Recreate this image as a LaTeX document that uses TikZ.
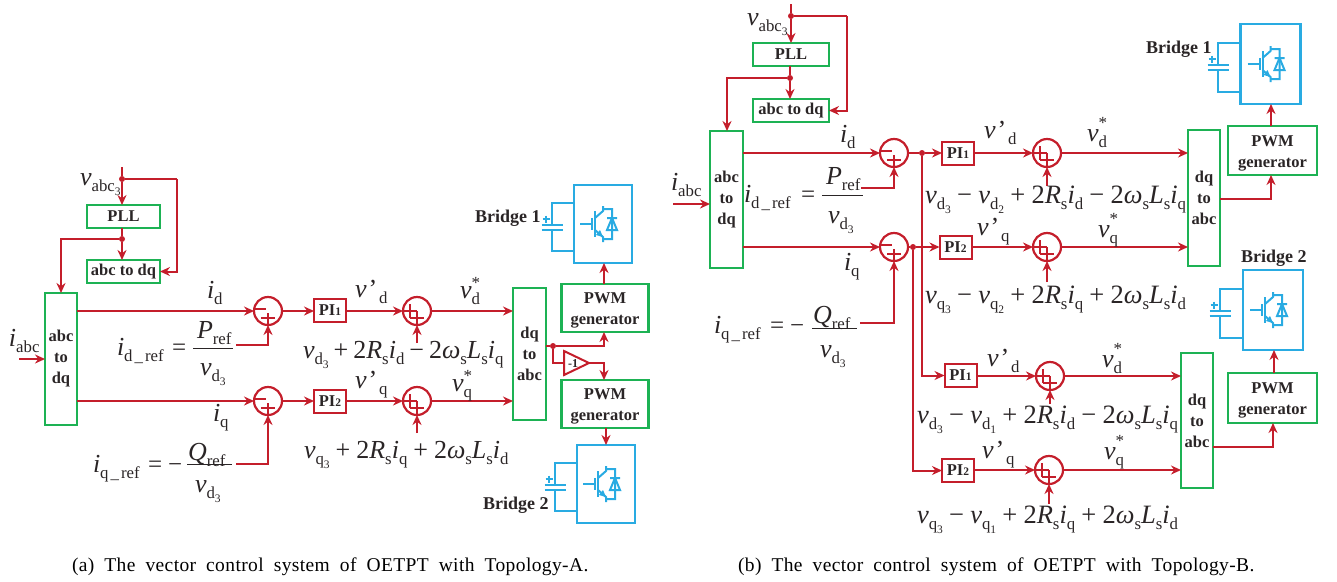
\documentclass[tikz,border=0pt]{standalone}
\usepackage{fontspec}
\setmainfont{Liberation Serif}
\newfontfamily\capf[LetterSpace=2,WordSpace=1.9]{Liberation Serif}
\usetikzlibrary{arrows.meta}
\definecolor{cred}{HTML}{C41E2B}
\definecolor{cgreen}{HTML}{1DB254}
\definecolor{cblue}{HTML}{29ABE2}
\definecolor{ctext}{HTML}{2A2526}
\newdimen\eqk \eqk=5pt
\newcommand\Sb[1]{\raisebox{-6pt}{\fontsize{16.8}{16.8}\selectfont\upshape #1}}
\newcommand\Ssb[1]{\raisebox{-4pt}{\fontsize{11.5}{12}\selectfont #1}}
\newcommand\Pl{\kern\eqk{\upshape +}\kern\eqk}
\newcommand\Mi{\kern\eqk{\upshape −}\kern\eqk}
\newcommand\Tw{{\upshape 2}}
\newcommand\Vst[2][10]{v\rlap{\Sb{#2}}\raisebox{#1pt}{\upshape\fontsize{17}{17}\selectfont *}}
\newcommand\Vpr[1]{v\kern2pt{\upshape '}\kern2pt\Sb{#1}}
\newcommand\Vdt{v\Sb{d\Ssb{3}}}
\newcommand\Vab{v\Sb{abc\Ssb{3}}}
\newcommand\Und{\kern2pt\_\kern2pt}
\newcommand\Pii[1]{PI\raisebox{0pt}{\fontsize{11.5}{12}\selectfont #1}}
\newcommand\Pwm{\rule{0pt}{16pt}PWM\\generator}
\tikzset{
  lbl/.style={inner sep=0pt,outer sep=0pt,anchor=base west,text=ctext,font=\fontsize{26}{26}\selectfont\itshape},
  eqb/.style={lbl,font=\fontsize{26.5}{26}\selectfont\itshape},
  op/.style={inner sep=0pt,outer sep=0pt,anchor=base west,text=ctext,font=\fontsize{25}{25}\selectfont},
  brg/.style={inner sep=0pt,outer sep=0pt,anchor=base west,text=ctext,font=\fontsize{18}{18}\selectfont\bfseries},
  captxt/.style={inner sep=0pt,outer sep=0pt,anchor=base west,text=black,font=\capf\fontsize{19.5}{22}\selectfont},
  gbox/.style={draw=cgreen,line width=2.2pt,inner sep=0pt,outer sep=0pt,fill=none,text=ctext,align=center,font=\fontsize{16.5}{21}\selectfont\bfseries},
  pbox/.style={draw=cred,line width=2pt,inner sep=0pt,outer sep=0pt,text=ctext,font=\fontsize{16.5}{20}\selectfont\bfseries,minimum width=32pt,minimum height=23pt},
  bbox/.style={draw=cblue,line width=2.2pt,inner sep=0pt,outer sep=0pt,minimum width=58pt,minimum height=78pt},
  sumn/.style={circle,draw=cred,line width=2.2pt,inner sep=0pt,outer sep=0pt,minimum size=28pt},
  wire/.style={draw=cred,line width=2pt},
  arr/.style={wire,-{Stealth[length=10pt,width=9pt]}},
  bw/.style={draw=cblue,line width=2pt},
  dotn/.style={circle,fill=cred,inner sep=0pt,outer sep=0pt,minimum size=6pt},
  fbar/.style={draw=ctext,line width=1pt},
  igbt/.pic={
    \draw[bw] (-23,0)--(-12,0) (-11,-6)--(-11,6) (-8,-13)--(-8,13);
    \draw[bw] (-8,-6)--(0,-13)--(0,-18) (0,-15)--(9,-15)--(9,15)--(0,15);
    \draw[bw] (-8,6)--(0,13)--(0,18);
    \fill[cblue] (0,13)--(-7,11)--(-3,6)--cycle;
    \draw[bw] (4,-6)--(14,-6) (4,6)--(14,6)--(9,-6)--cycle;
  }
}
\newcommand\SignMP[1]{\draw[wire] ([shift={(-13,-2)}]#1.center)--([shift={(-2,-2)}]#1.center) ([shift={(-7,7)}]#1.center)--([shift={(7,7)}]#1.center) ([shift={(0,2)}]#1.center)--([shift={(0,14)}]#1.center);}
\newcommand\SignPP[1]{\draw[wire] ([shift={(-13,0)}]#1.center)--([shift={(0,0)}]#1.center) ([shift={(-7,-7)}]#1.center)--([shift={(-7,7)}]#1.center) ([shift={(-7,7)}]#1.center)--([shift={(7,7)}]#1.center) ([shift={(0,0)}]#1.center)--([shift={(0,14)}]#1.center);}
\newcommand\Capac[5]{% name, x wire, y top, y bottom, plates y
  \draw[bw] (#1.west |- 0,#3)--(#2,#3)--(#2,#5) (#2,#5+5)--(#2,#4)--(#1.west |- 0,#4);
  \draw[bw] (#2-10.5,#5)--(#2+10.5,#5) (#2-10.5,#5+5)--(#2+10.5,#5+5);
  \draw[cblue,line width=1.6pt] (#2-9.5,#5-6)--(#2-2.5,#5-6) (#2-6,#5-9.5)--(#2-6,#5-2.5);
}
\begin{document}
\begin{tikzpicture}[x=1pt,y=-1pt]
\useasboundingbox (0,0) rectangle (1337,581);
%%%%%%%%% PANEL A
\coordinate (aVt) at (122,167);
\node[gbox,minimum width=73pt,minimum height=23pt] (aPLL) at (123.5,216.5) {PLL};
\node[gbox,minimum width=73pt,minimum height=23pt] (aAD) at (123.5,271.5) {abc to dq};
\node[gbox,minimum width=32pt,minimum height=132pt] (aABC) at (61,359) {abc\\to\\dq};
\node[gbox,minimum width=33pt,minimum height=132pt] (aDQ) at (529.5,354) {dq\\to\\abc};
\node[gbox,minimum width=87pt,minimum height=48pt] (aPW1) at (605,308) {\Pwm};
\node[gbox,minimum width=87pt,minimum height=48pt] (aPW2) at (605,404) {\Pwm};
\node[bbox] (aB1) at (603,224) {};
\node[bbox] (aB2) at (606,484) {};
\node[sumn] (aS1) at (268,311) {};
\node[sumn] (aS2) at (268,401) {};
\node[sumn] (aS3) at (417,311) {};
\node[sumn] (aS4) at (417,401) {};
\node[pbox] (aP1) at (330,310.5) {\Pii{1}};
\node[pbox] (aP2) at (330,401.5) {\Pii{2}};
\node[dotn] (aJ1) at (122,179) {};
\node[dotn] (aJ2) at (122,239) {};
\node[dotn] (aJ3) at (553,346) {};
\coordinate (aR1) at (177,179);
\coordinate (aL1) at (61,239);
\coordinate (aIn) at (19,359);
\coordinate (aPf) at (236,345);
\coordinate (aQf) at (236,464);
\coordinate (aC3) at (417,343);
\coordinate (aC4) at (417,433);
\coordinate (aT1) at (564,351);
\coordinate (aT2) at (564,375);
\coordinate (aT3) at (589,363);
\draw[wire] (aVt)--(aJ1);
\draw[arr] (aJ1)--(aJ1 |- aPLL.north);
\draw[wire] (aJ1)--(aR1);
\draw[arr] (aR1)--(aR1 |- aAD.east)--(aAD.east);
\draw[wire] (aJ2 |- aPLL.south)--(aJ2);
\draw[arr] (aJ2)--(aJ2 |- aAD.north);
\draw[arr] (aJ2)--(aL1)--(aABC.north);
\draw[arr] (aIn)--(aABC.west);
\draw[arr] (aABC.east |- aS1)--(aS1.west);
\draw[arr] (aABC.east |- aS2)--(aS2.west);
\draw[arr] (aS1.east)--(aP1.west |- aS1);
\draw[arr] (aS2.east)--(aP2.west |- aS2);
\draw[arr] (aP1.east |- aS3)--(aS3.west);
\draw[arr] (aP2.east |- aS4)--(aS4.west);
\draw[arr] (aS3.east)--(aDQ.west |- aS3);
\draw[arr] (aS4.east)--(aDQ.west |- aS4);
\draw[arr] (aPf)-|(aS1.south);
\draw[arr] (aQf)-|(aS2.south);
\draw[arr] (aC3)--(aS3.south);
\draw[arr] (aC4)--(aS4.south);
\SignMP{aS1}\SignMP{aS2}\SignPP{aS3}\SignPP{aS4}
\draw[wire] (aDQ.east |- aJ3)--(aJ3);
\draw[arr] (aJ3)-|(aPW1.south -| 604,0);
\draw[wire] (aJ3)|-(aT1 |- aT3);
\draw[wire] (aT1)--(aT2)--(aT3)--cycle;
\node[inner sep=0pt,text=ctext,font=\fontsize{12}{12}\selectfont\bfseries] (aM1) at (573,363.5) {-1};
\draw[arr] (aT3)-|(aPW2.north -| 604,0);
\draw[arr] (aPW1.north -| 604,0)--(aB1.south -| 604,0);
\draw[arr] (aPW2.south -| 606,0)--(aB2.north -| 606,0);
\pic at (aB1.center) {igbt};
\pic at (aB2.center) {igbt};
\Capac{aB1}{552}{203}{251}{225}
\Capac{aB2}{555}{463}{511}{485}
\node[lbl] (aLv) at (80,185) {\Vab};
\node[lbl] (aLi) at (9,346) {i\Sb{abc}};
\node[lbl] (aLid) at (207,298) {i\Sb{d}};
\node[lbl] (aLiq) at (213,421) {i\Sb{q}};
\node[lbl] (aLr1) at (117,355) {i\Sb{d\Und ref}};
\node[op] (aE1) at (172,355) {=};
\node[lbl] (aLP) at (197,338) {P\Sb{ref}};
\draw[fbar] (193,348)--(233,348);
\node[lbl] (aLv1) at (200,375) {\Vdt};
\node[lbl] (aLr2) at (93,472) {i\Sb{q\Und ref}};
\node[op] (aE2) at (148,472) {=\kern 6pt−};
\node[lbl] (aLQ) at (188,460) {Q\Sb{ref}};
\draw[fbar] (187,464)--(232,464);
\node[lbl] (aLv2) at (195,492) {\Vdt};
\node[lbl] (aVd) at (355,297) {\Vpr{d}};
\node[lbl] (aVq) at (355,388) {\Vpr{q}};
\node[lbl] (aVsd) at (460,298) {\Vst{d}};
\node[lbl] (aVsq) at (452,391) {\Vst{q}};
\node[lbl] (aEq1) at (303,358) {\Vdt\Pl\Tw R\Sb{s}i\Sb{d}\Mi\Tw ω\Sb{s}L\Sb{s}i\Sb{q}};
\node[lbl] (aEq2) at (304,458) {\eqk=6pt\relax v\Sb{q\Ssb{3}}\Pl\Tw R\Sb{s}i\Sb{q}\Pl\Tw ω\Sb{s}L\Sb{s}i\Sb{d}};
\node[brg] (aBr1) at (475,222) {Bridge 1};
\node[brg] (aBr2) at (483,509) {Bridge 2};
\node[captxt] (aCap) at (72,571) {(a) The vector control system of OETPT with Topology-A.};
%%%%%%%%% PANEL B
\coordinate (bVt) at (791,4);
\node[gbox,minimum width=76pt,minimum height=23pt] (bPLL) at (791,54.5) {PLL};
\node[gbox,minimum width=76pt,minimum height=23pt] (bAD) at (791,110.5) {abc to dq};
\node[gbox,minimum width=33pt,minimum height=137pt] (bABC) at (726.5,199.5) {abc\\to\\dq};
\node[gbox,minimum width=32pt,minimum height=136pt] (bDQ1) at (1204,198) {dq\\to\\abc};
\node[gbox,minimum width=32pt,minimum height=135pt] (bDQ2) at (1197,420.5) {dq\\to\\abc};
\node[gbox,minimum width=89pt,minimum height=49pt] (bPW1) at (1272.5,150.5) {\Pwm};
\node[gbox,minimum width=89pt,minimum height=50pt] (bPW2) at (1272.5,398) {\Pwm};
\node[bbox,minimum width=60pt,minimum height=80pt] (bB1) at (1270.5,64) {};
\node[bbox,minimum width=60pt,minimum height=80pt] (bB2) at (1273,310) {};
\node[sumn] (bS1) at (894,153) {};
\node[sumn] (bS2) at (894,247) {};
\node[sumn] (bS3) at (1047,153) {};
\node[sumn] (bS4) at (1047,247) {};
\node[sumn] (bS5) at (1050,376) {};
\node[sumn] (bS6) at (1049,470) {};
\node[pbox] (bP1) at (958,153) {\Pii{1}};
\node[pbox] (bP2) at (955.5,247) {\Pii{2}};
\node[pbox] (bP3) at (960.5,375.5) {\Pii{1}};
\node[pbox] (bP4) at (958,470.5) {\Pii{2}};
\node[dotn] (bJ1) at (791,16) {};
\node[dotn] (bJ2) at (790,78) {};
\node[dotn] (bJ3) at (922,153) {};
\node[dotn] (bJ4) at (913,247) {};
\coordinate (bR1) at (847,16);
\coordinate (bL1) at (727,78);
\coordinate (bIn) at (673,204);
\coordinate (bPf) at (861,188);
\coordinate (bQf) at (860,323);
\coordinate (bC3) at (1047,186);
\coordinate (bC4) at (1047,282);
\coordinate (bC5) at (1050,404);
\coordinate (bC6) at (1049,504);
\draw[wire] (bVt)--(bJ1);
\draw[arr] (bJ1)--(bJ1 |- bPLL.north);
\draw[wire] (bJ1)--(bR1);
\draw[arr] (bR1)--(bR1 |- bAD.east)--(bAD.east);
\draw[wire] (bJ2 |- bPLL.south)--(bJ2);
\draw[arr] (bJ2)--(bJ2 |- bAD.north);
\draw[arr] (bJ2)--(bL1)--(bL1 |- bABC.north);
\draw[arr] (bIn)--(bABC.west |- bIn);
\draw[arr] (bABC.east |- bS1)--(bS1.west);
\draw[arr] (bABC.east |- bS2)--(bS2.west);
\draw[wire] (bS1.east)--(bJ3);
\draw[arr] (bJ3)--(bP1.west);
\draw[wire] (bS2.east)--(bJ4);
\draw[arr] (bJ4)--(bP2.west);
\draw[arr] (bJ3)|-(bP3.west);
\draw[arr] (bJ4)|-(bP4.west);
\draw[arr] (bP1.east)--(bS3.west);
\draw[arr] (bP2.east)--(bS4.west);
\draw[arr] (bP3.east |- bS5)--(bS5.west);
\draw[arr] (bP4.east |- bS6)--(bS6.west);
\draw[arr] (bS3.east)--(bDQ1.west |- bS3);
\draw[arr] (bS4.east)--(bDQ1.west |- bS4);
\draw[arr] (bS5.east)--(bDQ2.west |- bS5);
\draw[arr] (bS6.east)--(bDQ2.west |- bS6);
\draw[arr] (bPf)-|(bS1.south);
\draw[arr] (bQf)-|(bS2.south);
\draw[arr] (bC3)--(bS3.south);
\draw[arr] (bC4)--(bS4.south);
\draw[arr] (bC5)--(bS5.south);
\draw[arr] (bC6)--(bS6.south);
\SignMP{bS1}\SignMP{bS2}\SignPP{bS3}\SignPP{bS4}\SignPP{bS5}\SignPP{bS6}
\draw[arr] (bDQ1.east |- 0,199)-|(bPW1.south -| 1271,0);
\draw[arr] (bDQ2.east |- 0,447)-|(bPW2.south -| 1273,0);
\draw[arr] (bPW1.north -| 1271,0)--(bB1.south -| 1271,0);
\draw[arr] (bPW2.north -| 1274,0)--(bB2.south -| 1274,0);
\pic at (bB1.center) {igbt};
\pic at (bB2.center) {igbt};
\Capac{bB1}{1218}{43}{92}{65}
\Capac{bB2}{1220}{289}{338}{311}
\node[lbl] (bLv) at (747,25) {\Vab};
\node[lbl] (bLi) at (671,190) {i\Sb{abc}};
\node[lbl] (bLid) at (840,142) {i\Sb{d}};
\node[lbl] (bLiq) at (844,270) {i\Sb{q}};
\node[lbl] (bLr1) at (744,202) {i\Sb{d\Und ref}};
\node[op] (bE1) at (801,202) {=};
\node[lbl] (bLP) at (826,184) {P\Sb{ref}};
\draw[fbar] (822,195)--(863,195);
\node[lbl] (bLv1) at (828,223) {\Vdt};
\node[lbl] (bLr2) at (714,333) {i\Sb{q\Und ref}};
\node[op] (bE2) at (770,333) {=\kern 6pt−};
\node[lbl] (bLQ) at (813,323) {Q\Sb{ref}};
\draw[fbar] (812,328)--(857,328);
\node[lbl] (bLv2) at (820,357) {\Vdt};
\node[lbl] (bVd1) at (984,138) {\Vpr{d}};
\node[lbl] (bVq1) at (977,235) {\Vpr{q}};
\node[lbl] (bVd2) at (987,366) {\Vpr{d}};
\node[lbl] (bVq2) at (982,458) {\Vpr{q}};
\node[lbl] (bVs1) at (1087,141) {\Vst[13]{d}};
\node[lbl] (bVs2) at (1098,237) {\Vst[13]{q}};
\node[lbl] (bVs3) at (1102,367) {\Vst[13]{d}};
\node[lbl] (bVs4) at (1104,459) {\Vst[13]{q}};
\node[eqb] (bEq1) at (925,203) {\eqk=6.2pt\relax\Vdt\Mi v\Sb{d\Ssb{2}}\Pl\Tw R\Sb{s}i\Sb{d}\Mi\Tw ω\Sb{s}L\Sb{s}i\Sb{q}};
\node[eqb] (bEq2) at (925,303) {\eqk=6.2pt\relax v\Sb{q\Ssb{3}}\Mi v\Sb{q\Ssb{2}}\Pl\Tw R\Sb{s}i\Sb{q}\Pl\Tw ω\Sb{s}L\Sb{s}i\Sb{d}};
\node[eqb] (bEq3) at (917,423) {\eqk=6.2pt\relax\Vdt\Mi v\Sb{d\Ssb{1}}\Pl\Tw R\Sb{s}i\Sb{d}\Mi\Tw ω\Sb{s}L\Sb{s}i\Sb{q}};
\node[eqb] (bEq4) at (917,523) {\eqk=6.2pt\relax v\Sb{q\Ssb{3}}\Mi v\Sb{q\Ssb{1}}\Pl\Tw R\Sb{s}i\Sb{q}\Pl\Tw ω\Sb{s}L\Sb{s}i\Sb{d}};
\node[brg] (bBr1) at (1146,53) {Bridge 1};
\node[brg] (bBr2) at (1241,262) {Bridge 2};
\node[captxt] (bCap) at (738,571) {(b) The vector control system of OETPT with Topology-B.};
\end{tikzpicture}
\end{document}
